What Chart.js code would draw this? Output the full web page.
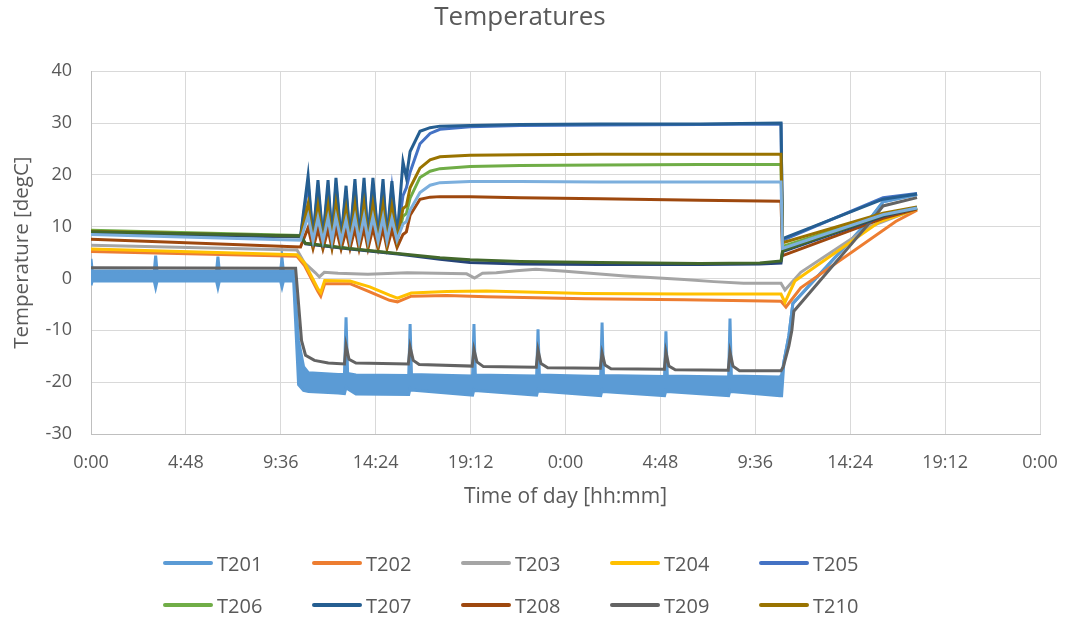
<!DOCTYPE html>
<html>
<head>
<meta charset="utf-8">
<script src="https://cdn.jsdelivr.net/npm/chart.js@4.4.1/dist/chart.umd.min.js"></script>
<style>
  body { margin: 0; background: #fff; }
  #wrap { position: relative; width: 1068px; height: 619px; font-family: "Open Sans", sans-serif; }
  #legend { position: absolute; left: 163px; top: 542px; display: grid; grid-template-columns: repeat(5, 149px); row-gap: 0; }
  .item { display: flex; align-items: center; height: 42px; color: #595959; font-size: 20px; }
  .item span { display: inline-block; width: 50px; height: 4px; margin-right: 4px; border-radius: 2px; }
</style>
</head>
<body>
<div id="wrap">
  <canvas id="topChart" width="1068" height="619"></canvas>
  <div id="legend"></div>
</div>
<script>
// time in hours from the first midnight, temperatures in degC
const legendNames = ["T201", "T202", "T203", "T204", "T205", "T206", "T207", "T208", "T209", "T210"];

// shared time base of the heated group (T205..T208, T210 and the light blue trace)
const tUpper = [0, 10.6, 10.98, 11.23, 11.48, 11.73, 11.99, 12.19, 12.39, 12.65, 12.90, 13.10, 13.35, 13.56,
  13.81, 14.01, 14.26, 14.52, 14.77, 14.97, 15.22, 15.48, 15.78, 15.95, 16.14, 16.64, 17.15, 17.65,
  19.17, 21.70, 25.75, 30.80, 34.90, 34.98, 40.06, 41.78];
const t205 = [8.6, 8.0, 18.3, 7.7, 17.6, 7.6, 17.5, 7.7, 18.0, 7.6, 16.6, 7.7, 17.8, 7.6, 18.0, 7.7, 18.0, 7.6,
  17.8, 7.7, 17.4, 7.9, 16.0, 17.5, 20.5, 26.0, 28.0, 28.8, 29.3, 29.5, 29.6, 29.7, 29.8, 7.4, 15.6, 16.4];
const t206 = [9.3, 8.3, 12.8, 7.2, 12.4, 7.1, 12.4, 7.2, 12.6, 7.1, 11.9, 7.2, 12.5, 7.1, 12.6, 7.2, 12.6, 7.1,
  12.5, 7.2, 12.3, 7.4, 12.0, 12.5, 15.5, 19.5, 20.7, 21.2, 21.6, 21.8, 21.9, 22.0, 22.0, 6.2, 12.4, 13.6];
const t207 = [8.8, 8.2, 19.8, 7.6, 19.0, 7.5, 19.0, 7.6, 19.4, 7.5, 17.9, 7.6, 19.2, 7.5, 19.4, 7.6, 19.4, 7.5,
  19.2, 7.6, 18.8, 7.8, 22.5, 19.5, 24.5, 28.4, 29.1, 29.4, 29.5, 29.7, 29.8, 29.8, 30.0, 7.7, 15.3, 16.3];
const t208 = [7.6, 6.1, 9.8, 5.8, 9.5, 5.7, 9.5, 5.8, 9.7, 5.7, 9.2, 5.8, 9.6, 5.7, 9.7, 5.8, 9.7, 5.7,
  9.6, 5.8, 9.4, 6.0, 8.5, 9.0, 12.2, 15.3, 15.7, 15.8, 15.8, 15.6, 15.4, 15.1, 14.9, 4.4, 11.6, 13.4];
const t210 = [9.1, 8.1, 14.4, 7.1, 13.9, 7.0, 13.9, 7.1, 14.2, 7.0, 13.3, 7.1, 14.0, 7.0, 14.2, 7.1, 14.2, 7.0,
  14.0, 7.1, 13.8, 7.3, 13.5, 14.0, 17.5, 21.3, 22.9, 23.5, 23.8, 23.9, 24.0, 24.0, 24.0, 6.9, 12.6, 13.8];
const tLight = [8.5, 7.4, 12.1, 7.3, 11.7, 7.2, 11.7, 7.3, 11.9, 7.2, 11.3, 7.3, 11.8, 7.2, 11.9, 7.3, 11.9, 7.2,
  11.8, 7.3, 11.6, 7.4, 10.5, 11.0, 13.2, 16.6, 18.0, 18.5, 18.7, 18.7, 18.6, 18.6, 18.6, 5.8, 12.3, 13.6];

// two traces that stay low near 3 degC
const tPair = [0, 10.6, 10.85, 13.10, 15.63, 17.65, 19.17, 21.70, 25.75, 30.80, 33.83, 34.90, 34.98, 40.06, 41.78];
const tNavy = [8.8, 8.1, 6.7, 5.7, 4.7, 3.7, 3.1, 2.8, 2.7, 2.7, 2.8, 3.0, 5.2, 12.0, 13.6];
const tDarkGreen = [9.0, 8.2, 6.8, 5.8, 4.8, 4.0, 3.6, 3.3, 3.1, 2.9, 3.0, 3.4, 5.4, 12.2, 13.6];

const time203 = [0, 10.42, 10.8, 11.35, 11.55, 11.8, 12.5, 14.0, 16.0, 19.0, 19.4, 19.8, 20.5, 21.5, 22.5, 24.0,
  27.0, 30.0, 31.5, 33.0, 34.90, 35.10, 35.90, 39.40, 41.78];
const t203 = [6.4, 5.5, 3.0, 1.1, 0.3, 1.2, 1.0, 0.8, 1.1, 0.9, 0.1, 1.0, 1.1, 1.5, 1.8, 1.4,
  0.5, -0.2, -0.6, -0.9, -0.9, -2.2, 1.2, 10.0, 13.5];

const time204 = [0, 10.42, 10.8, 11.48, 11.62, 11.82, 13.10, 14.10, 15.10, 15.50, 16.20, 18.00, 20.00, 25.00,
  30.00, 34.90, 35.10, 35.60, 39.90, 41.78];
const t204 = [5.7, 4.6, 3.0, -2.0, -2.7, -0.4, -0.5, -1.6, -3.2, -3.8, -2.8, -2.5, -2.4, -2.9,
  -3.0, -3.0, -4.6, -0.5, 11.0, 13.4];

const time202 = [0, 10.42, 10.8, 11.48, 11.62, 11.82, 13.10, 14.10, 15.10, 15.50, 16.20, 18.00, 20.00, 25.00,
  30.00, 34.90, 35.15, 35.90, 40.70, 41.78];
const t202 = [5.2, 4.3, 2.5, -2.5, -3.4, -1.0, -1.0, -2.6, -4.2, -4.5, -3.4, -3.3, -3.5, -3.9,
  -4.1, -4.4, -5.5, -1.8, 11.0, 13.2];

const time209 = [0, 10.35, 10.65, 10.85, 11.3, 12.0, 12.82, 12.90, 13.05, 13.4, 16.05, 16.14, 16.3, 16.6,
  19.28, 19.37, 19.52, 19.85, 22.52, 22.61, 22.76, 23.1, 25.76, 25.85, 26.0, 26.3, 29.0, 29.08, 29.23, 29.55,
  32.23, 32.32, 32.47, 32.8, 34.9, 35.02, 35.3, 35.45, 35.55, 39.55, 40.06, 41.78];
const t209 = [2.1, 2.0, -12.0, -14.8, -15.8, -16.3, -16.5, -12.9, -15.6, -16.3, -16.5, -13.2, -15.8, -16.6,
  -16.9, -13.7, -16.1, -17.0, -17.1, -13.8, -16.4, -17.2, -17.3, -14.4, -16.7, -17.4, -17.5, -14.2, -16.9, -17.6,
  -17.7, -14.2, -16.9, -17.8, -17.8, -17.0, -13.0, -10.0, -6.3, 11.5, 14.0, 15.6];

// T201 is a noisy band: upper and lower edge on the same time base
const time201 = [0, 0.06, 3.2, 3.27, 3.34, 6.35, 6.42, 6.49, 9.59, 9.66, 9.73, 10.25, 10.5, 10.75, 11.0, 12.5,
  12.82, 12.9, 12.98, 13.4, 16.07, 16.14, 16.21, 19.30, 19.37, 19.44, 22.54, 22.61, 22.68, 25.78, 25.85, 25.92,
  29.01, 29.08, 29.15, 32.25, 32.32, 32.39, 34.85, 34.93, 35.05, 35.3, 35.5, 39.3, 40.06, 41.78];
const t201Top = [3.8, 1.5, 1.4, 4.4, 1.4, 1.4, 4.2, 1.4, 1.4, 4.0, 1.4, 1.4, -12.0, -17.0, -18.2, -18.5,
  -18.5, -7.5, -18.3, -18.6, -18.7, -8.8, -18.5, -18.8, -8.8, -18.6, -18.8, -9.8, -18.6, -18.9, -8.5, -18.7,
  -18.9, -10.2, -18.8, -19.0, -7.7, -18.8, -19.0, -18.6, -16.0, -11.0, -4.8, 11.0, 14.8, 16.2];
const t201Bottom = [-1.3, -0.5, -0.5, -1.7, -0.5, -0.5, -1.7, -0.5, -0.5, -1.6, -0.5, -0.5, -20.5, -21.6, -21.8, -22.1,
  -22.2, -21.0, -21.3, -22.3, -22.4, -21.2, -21.5, -22.5, -21.4, -21.6, -22.5, -21.5, -21.7, -22.6, -21.5, -21.8,
  -22.6, -21.6, -21.8, -22.6, -21.6, -21.8, -22.6, -22.6, -16.0, -11.0, -4.8, 11.0, 14.8, 16.2];

const xTickStep = 4.8;

const textColor = "#595959";
const font = "'Open Sans', sans-serif";

function pts(xs, ys) {
  return xs.map((x, i) => ({ x: x, y: ys[i] }));
}

function hhmm(v) {
  const m = Math.round(v * 60) % 1440;
  const h = Math.floor(m / 60);
  const mm = m % 60;
  return h + ":" + (mm < 10 ? "0" : "") + mm;
}

const series = [
  { label: "T201", color: "#5B9BD5", data: pts(time201, t201Top), fill: "+1" },
  { label: "T201 low", color: "#5B9BD5", data: pts(time201, t201Bottom) },
  { label: "T202", color: "#ED7D31", data: pts(time202, t202) },
  { label: "T203", color: "#A5A5A5", data: pts(time203, t203) },
  { label: "T204", color: "#FFC000", data: pts(time204, t204) },
  { label: "T205", color: "#4472C4", data: pts(tUpper, t205) },
  { label: "T206", color: "#70AD47", data: pts(tUpper, t206) },
  { label: "T207", color: "#255E91", data: pts(tUpper, t207) },
  { label: "T208", color: "#9E480E", data: pts(tUpper, t208) },
  { label: "T209", color: "#636363", data: pts(time209, t209) },
  { label: "T210", color: "#997300", data: pts(tUpper, t210) },
  { label: "T211", color: "#264478", data: pts(tPair, tNavy) },
  { label: "T212", color: "#43682B", data: pts(tPair, tDarkGreen) },
  { label: "T213", color: "#7CAFDD", data: pts(tUpper, tLight) }
];

const datasets = series.map((s, i) => ({
  label: s.label,
  data: s.data,
  borderColor: s.color,
  backgroundColor: s.color,
  borderWidth: 3,
  pointRadius: 0,
  tension: 0,
  fill: s.fill || false,
  order: series.length - i  // later series drawn on top, like the spreadsheet
}));

const ctx = document.getElementById("topChart").getContext("2d");
new Chart(ctx, {
  type: "line",
  data: { datasets },
  options: {
    responsive: false,
    animation: false,
    layout: { padding: { left: 0, right: 28, top: 0, bottom: 109 } },
    plugins: {
      legend: { display: false },
      tooltip: { enabled: false },
      title: {
        display: true,
        text: "Temperatures",
        color: textColor,
        font: { family: font, size: 26, weight: "normal" },
        padding: { top: 2, bottom: 38 }
      }
    },
    scales: {
      x: {
        type: "linear",
        min: 0,
        max: 48,
        grid: { color: "#D9D9D9", drawTicks: false },
        border: { color: "#BFBFBF" },
        ticks: {
          stepSize: xTickStep,
          autoSkip: false,
          maxRotation: 0,
          padding: 18,
          color: textColor,
          font: { family: font, size: 18 },
          callback: v => hhmm(v)
        },
        title: {
          display: true,
          text: "Time of day [hh:mm]",
          color: textColor,
          font: { family: font, size: 21 },
          padding: { top: 2, bottom: 0 }
        },
        afterFit: scale => {
          scale.height = 76;
          scale.paddingLeft = 0;
          scale.paddingRight = 0;
        }
      },
      y: {
        min: -30,
        max: 40,
        grid: { color: "#D9D9D9", drawTicks: false },
        border: { color: "#BFBFBF" },
        ticks: {
          stepSize: 10,
          padding: 19,
          color: textColor,
          font: { family: font, size: 18 }
        },
        title: {
          display: true,
          text: "Temperature [degC]",
          color: textColor,
          font: { family: font, size: 20.5 },
          padding: { top: 10, bottom: 0 }
        },
        afterFit: scale => { scale.width = 91; }
      }
    }
  }
});

// legend in two rows of five, built from the dataset list
const legend = document.getElementById("legend");
series.filter(s => legendNames.includes(s.label)).forEach(s => {
  const item = document.createElement("div");
  item.className = "item";
  item.innerHTML = '<span style="background:' + s.color + '"></span>' + s.label;
  legend.appendChild(item);
});
</script>
</body>
</html>
